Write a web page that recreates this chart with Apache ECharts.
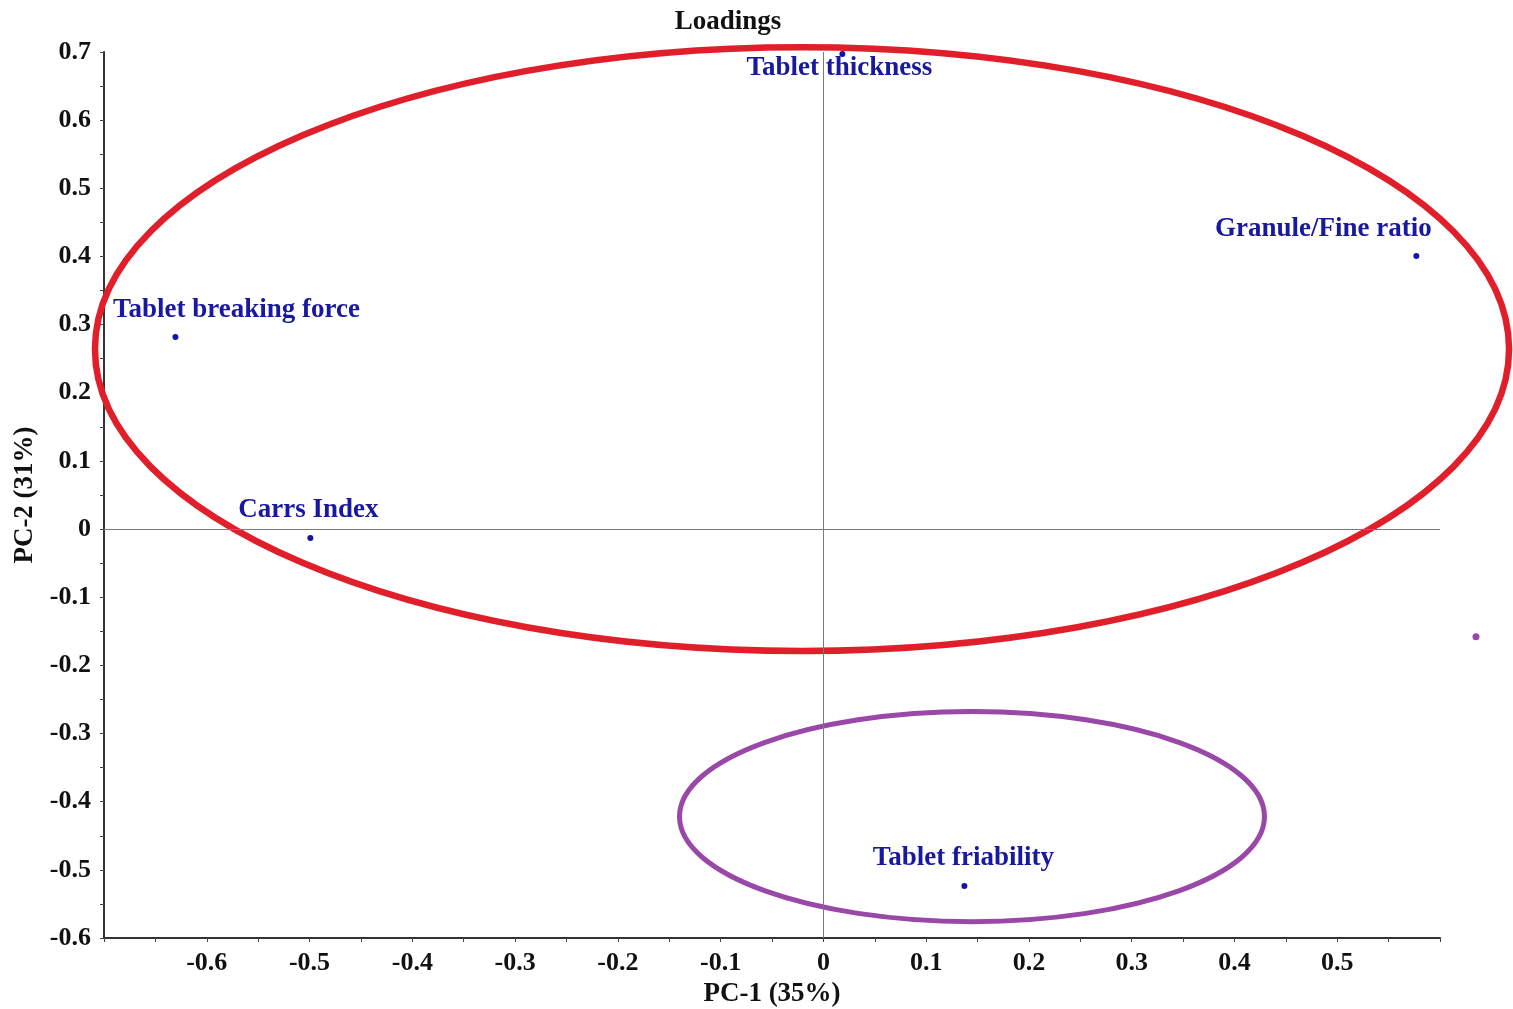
<!DOCTYPE html>
<html>
<head>
<meta charset="utf-8">
<script src="https://cdn.jsdelivr.net/npm/echarts@6/dist/echarts.min.js"></script>
<style>
html,body{margin:0;padding:0;background:#fff;}
#chart{width:1513px;height:1009px;}
</style>
</head>
<body>
<div id="chart"></div>
<script>
// ---- data ----
const variables = ['Tablet thickness', 'Granule/Fine ratio', 'Tablet breaking force', 'Carrs Index', 'Tablet friability'];
const pc1 = [0.0185, 0.577, -0.6305, -0.4992, 0.1372];
const pc2 = [0.697, 0.4006, 0.2817, -0.0132, -0.5238];

// cluster ellipses (data units)
const ellipseCenterX = [-0.0208, 0.1446];
const ellipseCenterY = [0.2641, -0.4219];
const ellipseRadiusX = [0.688, 0.2846];
const ellipseRadiusY = [0.443, 0.1541];

// stray marker outside the plot
const strayX = [0.635];
const strayY = [-0.158];

const xTicks = { min: -0.7, max: 0.6, interval: 0.1 };
const yTicks = { min: -0.6, max: 0.7, interval: 0.1 };

// ---- styles (kept apart from data) ----
const ellipseColors = ['#e11f2a', '#9a48a8'];
const ellipseWidths = [6.5, 5];
const labelOffsets = [[-3, 14], [-93, -27], [61, -27], [-2, -28], [-1, -28]];
const FONT = "'Liberation Serif', 'Times New Roman', serif";
const TXT = 27;

const chart = echarts.init(document.getElementById('chart'));

const pointData = variables.map((name, i) => ({
  name: name,
  value: [pc1[i], pc2[i]],
  label: { offset: labelOffsets[i] }
}));

const ellipseData = ellipseCenterX.map((cx, i) => [cx, ellipseCenterY[i], ellipseRadiusX[i], ellipseRadiusY[i]]);

const fmt = v => (Math.abs(v) < 1e-9 ? '0' : String(Math.round(v * 10) / 10));

const option = {
  backgroundColor: '#fff',
  animation: false,
  title: {
    text: 'Loadings',
    left: 723,
    top: 4,
    textAlign: 'center',
    textStyle: { fontFamily: FONT, fontWeight: 'bold', fontSize: TXT, color: '#111' }
  },
  grid: { left: 104, top: 52, width: 1336, height: 886, containLabel: false, outerBoundsMode: 'none' },
  xAxis: {
    type: 'value',
    min: xTicks.min, max: xTicks.max, interval: xTicks.interval,
    name: 'PC-1 (35%)',
    nameLocation: 'middle',
    nameGap: 43,
    nameTextStyle: { fontFamily: FONT, fontWeight: 'bold', fontSize: TXT, color: '#111' },
    axisLine: { show: true, onZero: false, lineStyle: { color: '#333', width: 2 } },
    axisTick: { show: true, length: 4, lineStyle: { color: '#444', width: 1 } },
    minorTick: { show: true, splitNumber: 2, length: 4, lineStyle: { color: '#444', width: 1 } },
    splitLine: { show: false },
    axisLabel: {
      margin: 12,
      showMinLabel: false, showMaxLabel: false,
      fontFamily: FONT, fontWeight: 'bold', fontSize: 26, color: '#111',
      formatter: fmt
    }
  },
  yAxis: {
    type: 'value',
    min: yTicks.min, max: yTicks.max, interval: yTicks.interval,
    name: 'PC-2 (31%)',
    nameLocation: 'middle',
    nameGap: 63,
    nameRotate: 90,
    nameTextStyle: { fontFamily: FONT, fontWeight: 'bold', fontSize: TXT, color: '#111' },
    axisLine: { show: true, onZero: false, lineStyle: { color: '#333', width: 2 } },
    axisTick: { show: true, length: 4, lineStyle: { color: '#444', width: 1 } },
    minorTick: { show: true, splitNumber: 2, length: 4, lineStyle: { color: '#444', width: 1 } },
    splitLine: { show: false },
    axisLabel: {
      margin: 13,
      fontFamily: FONT, fontWeight: 'bold', fontSize: 26, color: '#111',
      formatter: fmt
    }
  },
  series: [
    {
      type: 'custom',
      name: 'clusters',
      clip: false,
      silent: true,
      z: 1,
      data: ellipseData,
      encode: { x: 0, y: 1 },
      renderItem: function (params, api) {
        const c = api.coord([api.value(0), api.value(1)]);
        const s = api.size([api.value(2), api.value(3)]);
        const i = params.dataIndex;
        return {
          type: 'ellipse',
          shape: { cx: c[0], cy: c[1], rx: s[0], ry: s[1] },
          style: { fill: 'none', stroke: ellipseColors[i], lineWidth: ellipseWidths[i] }
        };
      }
    },
    {
      type: 'scatter',
      name: 'loadings',
      z: 3,
      symbol: 'circle',
      symbolSize: 6,
      itemStyle: { color: '#1414a8', opacity: 1 },
      label: {
        show: true,
        position: 'inside',
        formatter: '{b}',
        fontFamily: FONT, fontWeight: 'bold', fontSize: TXT, color: '#1818a0',
        textBorderWidth: 0, textBorderColor: 'transparent', opacity: 1
      },
      data: pointData,
      markLine: {
        silent: true,
        symbol: 'none',
        label: { show: false },
        lineStyle: { color: '#7a7a7a', width: 1, type: 'solid', opacity: 1 },
        data: [{ xAxis: 0 }, { yAxis: 0 }],
        z: 2
      }
    },
    {
      type: 'scatter',
      name: 'stray',
      clip: false,
      silent: true,
      symbol: 'circle',
      symbolSize: 7,
      itemStyle: { color: '#9a48a8', opacity: 1 },
      data: strayX.map((x, i) => [x, strayY[i]])
    }
  ]
};

chart.setOption(option);
</script>
</body>
</html>
